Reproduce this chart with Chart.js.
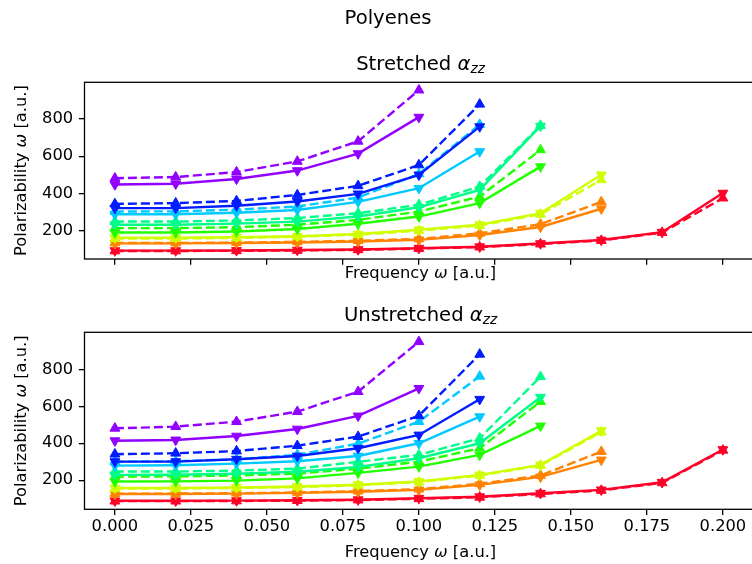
<!DOCTYPE html>
<html>
<head>
<meta charset="utf-8">
<script src="https://cdn.jsdelivr.net/npm/chart.js@4.4.1/dist/chart.umd.min.js"></script>
<style>
  html, body { margin: 0; padding: 0; background: #fff; overflow: hidden; width: 752px; height: 564px; }
  #wrap { position: relative; width: 752px; height: 564px; overflow: hidden; }
  canvas { position: absolute; left: 0; }
  #c1 { top: 0; }
  #c2 { top: 290px; }
</style>
</head>
<body>
<div id="wrap">
  <canvas id="c1" width="760" height="290"></canvas>
  <canvas id="c2" width="760" height="274"></canvas>
</div>
<script>
// Frequencies (a.u.) at which the response was computed
const freqs = [0.00, 0.02, 0.04, 0.06, 0.08, 0.10, 0.12, 0.14, 0.16, 0.18, 0.20];
const xTicks = [0.000, 0.025, 0.050, 0.075, 0.100, 0.125, 0.150, 0.175, 0.200];
const yTicks = [200, 400, 600, 800];

// Chain colours, shortest (1) to longest (8)
const chainColors = ['#ff0029', '#ff8300', '#cfff00', '#22ff00', '#00ff89', '#00c9ff', '#001cff', '#9200ff'];

// Stretched geometry: solid = first method, dashed = second method
const stretchedSolid1 = [93, 93, 94, 96, 99, 106, 114, 131, 150, 192, 402];
const stretchedDashed1 = [91, 91, 92, 94, 97, 104, 112, 128, 147, 190, 375];
const stretchedSolid2 = [132, 132, 134, 137, 142, 151, 177, 220, 318];
const stretchedDashed2 = [134, 134, 136, 140, 146, 156, 186, 235, 355];
const stretchedSolid3 = [162, 162, 165, 170, 182, 205, 232, 294, 500];
const stretchedDashed3 = [158, 158, 161, 167, 179, 200, 228, 288, 473];
const stretchedSolid4 = [190, 190, 196, 209, 237, 276, 348, 544];
const stretchedDashed4 = [214, 214, 219, 232, 258, 303, 383, 634];
const stretchedSolid5 = [232, 232, 238, 249, 276, 326, 419, 762];
const stretchedDashed5 = [249, 249, 255, 268, 294, 339, 437, 765];
const stretchedSolid6 = [288, 288, 296, 311, 355, 428, 625];
const stretchedDashed6 = [303, 304, 313, 330, 378, 505, 770];
const stretchedSolid7 = [321, 321, 334, 357, 398, 500, 759];
const stretchedDashed7 = [344, 348, 360, 392, 441, 553, 879];
const stretchedSolid8 = [448, 452, 478, 523, 614, 810];
const stretchedDashed8 = [482, 488, 515, 572, 680, 955];

// Unstretched geometry
const unstretchedSolid1 = [89, 89, 90, 92, 95, 103, 111, 130, 148, 189, 366];
const unstretchedDashed1 = [87, 87, 88, 90, 93, 100, 108, 126, 145, 186, 362];
const unstretchedSolid2 = [126, 126, 128, 132, 138, 148, 175, 218, 310];
const unstretchedDashed2 = [128, 128, 130, 134, 141, 152, 181, 226, 355];
const unstretchedSolid3 = [158, 158, 161, 166, 176, 193, 229, 283, 468];
const unstretchedDashed3 = [155, 155, 158, 163, 173, 190, 226, 280, 460];
const unstretchedSolid4 = [193, 194, 198, 210, 240, 274, 337, 494];
const unstretchedDashed4 = [220, 221, 226, 236, 262, 301, 373, 625];
const unstretchedSolid5 = [229, 230, 235, 246, 272, 319, 400, 649];
const unstretchedDashed5 = [247, 247, 252, 263, 300, 337, 427, 760];
const unstretchedSolid6 = [279, 281, 290, 303, 331, 400, 544];
const unstretchedDashed6 = [300, 303, 313, 338, 398, 517, 762];
const unstretchedSolid7 = [301, 301, 314, 331, 373, 445, 638];
const unstretchedDashed7 = [341, 346, 358, 387, 436, 549, 881];
const unstretchedSolid8 = [414, 418, 439, 477, 548, 697];
const unstretchedDashed8 = [481, 490, 517, 571, 679, 949];

const stretchedSolid = [stretchedSolid1, stretchedSolid2, stretchedSolid3, stretchedSolid4, stretchedSolid5, stretchedSolid6, stretchedSolid7, stretchedSolid8];
const stretchedDashed = [stretchedDashed1, stretchedDashed2, stretchedDashed3, stretchedDashed4, stretchedDashed5, stretchedDashed6, stretchedDashed7, stretchedDashed8];
const unstretchedSolid = [unstretchedSolid1, unstretchedSolid2, unstretchedSolid3, unstretchedSolid4, unstretchedSolid5, unstretchedSolid6, unstretchedSolid7, unstretchedSolid8];
const unstretchedDashed = [unstretchedDashed1, unstretchedDashed2, unstretchedDashed3, unstretchedDashed4, unstretchedDashed5, unstretchedDashed6, unstretchedDashed7, unstretchedDashed8];

const FONT = '"DejaVu Sans", "Liberation Sans", sans-serif';
const LINE_W = 2.4;
const MARK_R = 5.7;
const TICK_LEN = 5.7;
const AXIS_W = 1.3;

function toPoints(values) {
  return values.map((v, i) => ({ x: freqs[i], y: v }));
}

function buildDatasets(solidSets, dashedSets) {
  const out = [];
  // longest chain first so it ends up drawn on top
  for (let k = chainColors.length - 1; k >= 0; k--) {
    const c = chainColors[k];
    const common = {
      borderColor: c, backgroundColor: c,
      pointBackgroundColor: c, pointBorderColor: c,
      borderWidth: LINE_W, pointRadius: MARK_R, pointBorderWidth: 1,
      pointStyle: 'triangle', tension: 0, fill: false, clip: false
    };
    out.push(Object.assign({}, common, { data: toPoints(dashedSets[k]), borderDash: [9, 4], pointRotation: 0 }));
    out.push(Object.assign({}, common, { data: toPoints(solidSets[k]), pointRotation: 180 }));
  }
  return out;
}

// Draws a line of text made of plain, italic and italic-subscript pieces
function richText(ctx, parts, x, y, size, rotate) {
  const fontFor = p => (p[1] === 'n' ? '' : 'italic ') + (p[1] === 's' ? size * 0.7 : size) + 'px ' + FONT;
  let total = 0;
  const widths = parts.map(p => { ctx.font = fontFor(p); const w = ctx.measureText(p[0]).width; total += w; return w; });
  ctx.save();
  ctx.translate(x, y);
  if (rotate) ctx.rotate(-Math.PI / 2);
  ctx.textBaseline = 'middle';
  ctx.textAlign = 'left';
  ctx.fillStyle = '#000';
  let cx = -total / 2;
  parts.forEach((p, i) => {
    ctx.font = fontFor(p);
    ctx.fillText(p[0], cx, p[1] === 's' ? size * 0.24 : 0);
    cx += widths[i];
  });
  ctx.restore();
}

const framePlugin = {
  id: 'frame',
  afterDatasetsDraw(chart) {
    const a = chart.chartArea, ctx = chart.ctx;
    ctx.save();
    ctx.strokeStyle = '#000';
    ctx.lineWidth = AXIS_W;
    ctx.strokeRect(a.left, a.top, a.right - a.left, a.bottom - a.top);
    ctx.restore();
  }
};

function labelsPlugin(items) {
  return {
    id: 'labels',
    afterDraw(chart) {
      items.forEach(it => richText(chart.ctx, it.parts, it.x, it.y, it.size, it.rotate));
    }
  };
}

function makeChart(canvas, datasets, cfg) {
  return new Chart(canvas, {
    type: 'line',
    data: { datasets },
    options: {
      responsive: false,
      animation: false,
      devicePixelRatio: 1,
      layout: { padding: { top: cfg.padTop, right: 3.5, left: 0, bottom: 0 } },
      plugins: { legend: { display: false }, tooltip: { enabled: false }, title: { display: false } },
      scales: {
        x: {
          type: 'linear', min: -0.01, max: 0.21,
          afterBuildTicks: ax => { ax.ticks = xTicks.map(v => ({ value: v })); },
          afterFit: ax => { ax.height = cfg.xAxisHeight; },
          border: { display: false },
          grid: { drawOnChartArea: false, drawTicks: true, tickLength: TICK_LEN, color: '#000', lineWidth: AXIS_W },
          ticks: {
            color: cfg.showXLabels ? '#000' : 'rgba(0,0,0,0)',
            font: { family: FONT, size: 16.3 },
            padding: 2, maxRotation: 0, minRotation: 0, autoSkip: false,
            callback: v => Number(v).toFixed(3)
          }
        },
        y: {
          type: 'linear', min: cfg.yMin, max: cfg.yMax,
          afterBuildTicks: ax => { ax.ticks = yTicks.map(v => ({ value: v })); },
          afterFit: ax => { ax.width = 84.5; },
          border: { display: false },
          grid: { drawOnChartArea: false, drawTicks: true, tickLength: TICK_LEN, color: '#000', lineWidth: AXIS_W },
          ticks: {
            color: '#000', font: { family: FONT, size: 16.3 }, padding: 5.7, autoSkip: false,
            callback: v => String(v)
          }
        }
      }
    },
    plugins: [framePlugin, labelsPlugin(cfg.labels)]
  });
}

const freqLabel = [['Frequency ', 'n'], ['ω', 'i'], [' [a.u.]', 'n']];
const polLabel = [['Polarizability ', 'n'], ['ω', 'i'], [' [a.u.]', 'n']];

makeChart(document.getElementById('c1'), buildDatasets(stretchedSolid, stretchedDashed), {
  padTop: 82.3, xAxisHeight: 31, yMin: 48, yMax: 997, showXLabels: false,
  labels: [
    { parts: [['Polyenes', 'n']], x: 388, y: 19, size: 19.6 },
    { parts: [['Stretched ', 'n'], ['α', 'i'], ['zz', 's']], x: 420.5, y: 65, size: 19.6 },
    { parts: freqLabel, x: 420.5, y: 274, size: 16.3 },
    { parts: polLabel, x: 22, y: 170.6, size: 16.3, rotate: true }
  ]
});

makeChart(document.getElementById('c2'), buildDatasets(unstretchedSolid, unstretchedDashed), {
  padTop: 42.3, xAxisHeight: 54.7, yMin: 43, yMax: 1000, showXLabels: true,
  labels: [
    { parts: [['Unstretched ', 'n'], ['α', 'i'], ['zz', 's']], x: 420.5, y: 26, size: 19.6 },
    { parts: freqLabel, x: 420.5, y: 263, size: 16.3 },
    { parts: polLabel, x: 22, y: 130.8, size: 16.3, rotate: true }
  ]
});
</script>
</body>
</html>
